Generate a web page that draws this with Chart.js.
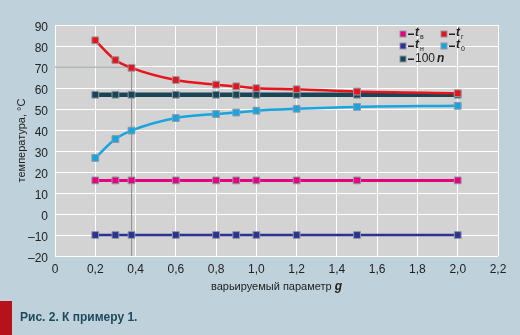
<!DOCTYPE html>
<html>
<head>
<meta charset="utf-8">
<script src="https://cdn.jsdelivr.net/npm/chart.js@4"></script>
<style>
  html, body { margin: 0; padding: 0; background: #bfd2dc; }
  #wrap { width: 520px; height: 335px; position: relative; }
</style>
</head>
<body>
<div id="wrap"><canvas id="chart" width="520" height="335"></canvas></div>
<script>
// варьируемый параметр g
const gValues = [0.2, 0.3, 0.38, 0.6, 0.8, 0.9, 1.0, 1.2, 1.5, 2.0];
// температуры, °С
const tV = [16, 16, 16, 16, 16, 16, 16, 16, 16, 16];
const tG = [82.7, 73.3, 69.6, 63.8, 61.6, 60.8, 59.9, 59.4, 58.3, 57.5];
const tH = [-10, -10, -10, -10, -10, -10, -10, -10, -10, -10];
const t0 = [26.7, 35.7, 39.7, 45.7, 47.6, 48.3, 49.2, 50.1, 51.0, 51.5];
const n100 = [56.8, 56.8, 56.8, 56.8, 56.8, 56.8, 56.8, 56.8, 56.8, 56.8];
// вспомогательная линия отсчёта при g = 0,38
const guideX = [0, 0.38, 0.38];
const guideY = [70, 70, -20];

const xTicks = [0, 0.2, 0.4, 0.6, 0.8, 1.0, 1.2, 1.4, 1.6, 1.8, 2.0, 2.2];
const yTicks = [-20, -10, 0, 10, 20, 30, 40, 50, 60, 70, 80, 90];

const FONT = "'Liberation Sans Narrow', 'Liberation Sans', Arial, sans-serif";

function pts(ys) {
  return gValues.map((g, i) => ({ x: g, y: ys[i] }));
}

function series(data, color, width, curved) {
  return {
    data: pts(data),
    borderColor: color,
    backgroundColor: color,
    borderWidth: width,
    pointStyle: "rect",
    pointRadius: 4.8,
    pointBorderColor: "#8d9aa3",
    pointBorderWidth: 1,
    pointBackgroundColor: color,
    cubicInterpolationMode: curved ? "monotone" : "default",
    tension: 0,
  };
}

// фон области графика
const plotBg = {
  id: "plotBg",
  beforeDraw(chart) {
    const { ctx, chartArea: a } = chart;
    ctx.save();
    ctx.fillStyle = "#d3d3d3";
    ctx.fillRect(a.left, a.top, a.right - a.left, a.bottom - a.top);
    ctx.restore();
  },
};

// подписи осей, легенда с индексами и подпись к рисунку
const extras = {
  id: "extras",
  afterDraw(chart) {
    const { ctx, chartArea: a } = chart;
    ctx.save();
    ctx.fillStyle = "#222";
    ctx.textBaseline = "middle";

    // ось Y
    ctx.save();
    ctx.translate(22, (a.top + a.bottom) / 2);
    ctx.rotate(-Math.PI / 2);
    ctx.textAlign = "center";
    ctx.font = "11px " + FONT;
    ctx.fillText("температура, °С", 0, 0);
    ctx.restore();

    // ось X
    ctx.font = "11px " + FONT;
    const xt = "варьируемый параметр ";
    ctx.textAlign = "left";
    const w1 = ctx.measureText(xt).width;
    ctx.font = "italic bold 12px " + FONT;
    const w2 = ctx.measureText("g").width;
    let x0 = (a.left + a.right) / 2 - (w1 + w2) / 2;
    ctx.font = "11px " + FONT;
    ctx.fillText(xt, x0, 287);
    ctx.font = "italic bold 12px " + FONT;
    ctx.fillText("g", x0 + w1, 287);

    // легенда
    const items = [
      { c: "#e6007e", x: 403, y: 34, sub: "в" },
      { c: "#e8141c", x: 444, y: 34, sub: "г" },
      { c: "#2e3192", x: 403, y: 46, sub: "н" },
      { c: "#18a4e0", x: 444, y: 46, sub: "0" },
      { c: "#1b4556", x: 403, y: 59, text: "100" },
    ];
    items.forEach((it) => {
      ctx.fillStyle = "#8d9aa3";
      ctx.fillRect(it.x - 3.5, it.y - 3.5, 7, 7);
      ctx.fillStyle = it.c;
      ctx.fillRect(it.x - 2.5, it.y - 2.5, 5, 5);
      ctx.fillStyle = "#222";
      ctx.fillRect(it.x + 5, it.y - 0.5, 6, 1.5);
      if (it.text) {
        ctx.font = "12px " + FONT;
        ctx.fillText(it.text, it.x + 12, it.y);
        const w = ctx.measureText(it.text).width;
        ctx.font = "italic bold 12px " + FONT;
        ctx.fillText("n", it.x + 14 + w, it.y);
      } else {
        ctx.font = "italic bold 12px " + FONT;
        ctx.fillText("t", it.x + 12, it.y - 1);
        ctx.font = "7px " + FONT;
        ctx.fillText(it.sub, it.x + 17, it.y + 3);
      }
    });

    // подпись к рисунку
    ctx.fillStyle = "#b5121b";
    ctx.fillRect(0, 301, 12, 34);
    ctx.fillStyle = "#1d4a5c";
    ctx.font = "bold 12px " + FONT;
    ctx.textAlign = "left";
    ctx.fillText("Рис. 2. К примеру 1.", 20, 318);
    ctx.restore();
  },
};

new Chart(document.getElementById("chart"), {
  type: "line",
  data: {
    datasets: [
      series(tV, "#e6007e", 3, false),
      series(tG, "#e8141c", 2.5, true),
      series(tH, "#2e3192", 2.5, false),
      series(t0, "#18a4e0", 2.5, true),
      series(n100, "#1b4556", 4.5, false),
      {
        data: guideX.map((x, i) => ({ x, y: guideY[i] })),
        borderColor: "#8f9598",
        borderWidth: 1,
        pointRadius: 0,
        tension: 0,
      },
    ],
  },
  options: {
    responsive: false,
    animation: false,
    layout: { padding: { top: 25, right: 22, left: 0, bottom: 0 } },
    plugins: { legend: { display: false }, tooltip: { enabled: false } },
    scales: {
      x: {
        type: "linear",
        min: 0,
        max: 2.2,
        afterFit(scale) { scale.height = 79; },
        afterBuildTicks(scale) {
          scale.ticks = xTicks.map((v) => ({ value: v }));
        },
        grid: { color: "#ffffff", lineWidth: 1, drawTicks: false },
        border: { display: false },
        ticks: {
          padding: 6,
          color: "#222",
          font: { family: FONT, size: 12 },
          callback: (v) => (v === 0 ? "0" : v.toFixed(1).replace(".", ",")),
        },
      },
      y: {
        min: -20,
        max: 90,
        afterFit(scale) { scale.width = 55; },
        afterBuildTicks(scale) {
          scale.ticks = yTicks.map((v) => ({ value: v }));
        },
        grid: { color: "#ffffff", lineWidth: 1, drawTicks: false },
        border: { display: false },
        ticks: {
          padding: 7,
          labelOffset: 3,
          color: "#222",
          font: { family: FONT, size: 12 },
          callback: (v) => String(v).replace("-", "–"),
        },
      },
    },
  },
  plugins: [plotBg, extras],
});
</script>
</body>
</html>
